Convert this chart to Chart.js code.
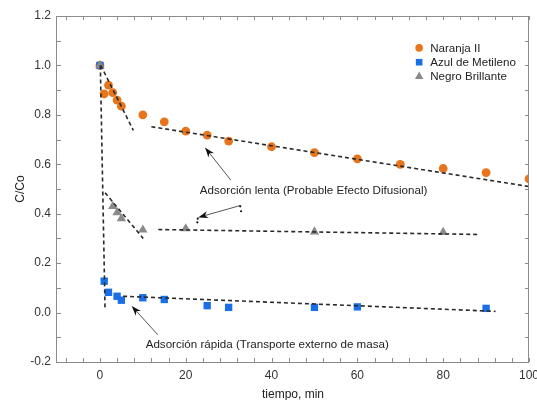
<!DOCTYPE html>
<html>
<head>
<meta charset="utf-8">
<script src="https://cdn.jsdelivr.net/npm/chart.js@4"></script>
<style>
  html, body { margin: 0; padding: 0; background: #fff; }
  #wrap { width: 537px; height: 400px; }
</style>
</head>
<body>
<div id="wrap"><canvas id="chart" width="537" height="400"></canvas></div>
<script>
// Naranja II
const naranjaX = [0, 1, 2, 3, 4, 5, 10, 15, 20, 25, 30, 40, 50, 60, 70, 80, 90, 100];
const naranjaY = [1.0, 0.885, 0.92, 0.89, 0.86, 0.835, 0.80, 0.772, 0.734, 0.718, 0.694, 0.671, 0.647, 0.622, 0.60, 0.583, 0.566, 0.541];
// Azul de Metileno
const azulX = [0, 1, 2, 4, 5, 10, 15, 25, 30, 50, 60, 90];
const azulY = [1.0, 0.127, 0.082, 0.066, 0.05, 0.06, 0.053, 0.028, 0.021, 0.021, 0.023, 0.017];
// Negro Brillante
const negroX = [0, 3, 4, 5, 10, 20, 50, 80];
const negroY = [1.0, 0.43, 0.405, 0.38, 0.335, 0.34, 0.327, 0.325];

// dashed fit segments: start and end
const fitNaranjaRapidaX = [0.2, 7.8];
const fitNaranjaRapidaY = [1.0, 0.737];
const fitNaranjaLentaX = [12, 100];
const fitNaranjaLentaY = [0.752, 0.51];
const fitAzulRapidaX = [0.1, 1.2];
const fitAzulRapidaY = [1.0, 0.01];
const fitAzulLentaX = [5.4, 92.2];
const fitAzulLentaY = [0.066, 0.005];
const fitNegroRapidaX = [1.2, 10.1];
const fitNegroRapidaY = [0.485, 0.30];
const fitNegroLentaX = [13.6, 88.3];
const fitNegroLentaY = [0.336, 0.316];

const seriesNames = ['Naranja II', 'Azul de Metileno', 'Negro Brillante'];
const xTicks = [0, 20, 40, 60, 80, 100];
const yTicks = [-0.2, 0, 0.2, 0.4, 0.6, 0.8, 1.0, 1.2];

const notaLenta = 'Adsorción lenta (Probable Efecto Difusional)';
const notaRapida = 'Adsorción rápida (Transporte externo de masa)';

const naranja = '#e8741c';
const azul = '#1a6fe6';
const gris = '#8a8a8a';

Chart.defaults.font.family = "'Liberation Sans', Arial, sans-serif";
Chart.defaults.font.size = 12;
Chart.defaults.color = '#333';

function pts(xs, ys) {
    return xs.map((x, i) => ({ x: x, y: ys[i] }));
}

function fit(xs, ys) {
    return {
        data: pts(xs, ys),
        showLine: true,
        borderColor: '#2a2a2a',
        borderWidth: 1.6,
        borderDash: [4, 3],
        pointRadius: 0,
        order: 0
    };
}

function arrow(ctx, x1, y1, x2, y2) {
    const a = Math.atan2(y2 - y1, x2 - x1);
    ctx.strokeStyle = '#555';
    ctx.lineWidth = 1;
    ctx.beginPath();
    ctx.moveTo(x1, y1);
    ctx.lineTo(x2 - 6 * Math.cos(a), y2 - 6 * Math.sin(a));
    ctx.stroke();
    ctx.fillStyle = '#111';
    ctx.beginPath();
    ctx.moveTo(x2, y2);
    ctx.lineTo(x2 - 10 * Math.cos(a) + 3.5 * Math.sin(a), y2 - 10 * Math.sin(a) - 3.5 * Math.cos(a));
    ctx.lineTo(x2 - 7 * Math.cos(a), y2 - 7 * Math.sin(a));
    ctx.lineTo(x2 - 10 * Math.cos(a) - 3.5 * Math.sin(a), y2 - 10 * Math.sin(a) + 3.5 * Math.cos(a));
    ctx.closePath();
    ctx.fill();
}

const extras = {
    id: 'extras',
    afterDraw(chart) {
        const ctx = chart.ctx;
        const xs = chart.scales.x, ys = chart.scales.y;
        const a = chart.chartArea;
        const px = v => xs.getPixelForValue(v);
        const py = v => ys.getPixelForValue(v);
        ctx.save();

        // frame
        ctx.strokeStyle = '#8c8c8c';
        ctx.lineWidth = 1;
        ctx.strokeRect(a.left - 0.5, a.top + 0.5, a.right - a.left, a.bottom - a.top);

        // inward ticks
        ctx.beginPath();
        for (let v = -8; v <= 100; v += 4) {
            const x = Math.round(px(v)) + 0.5;
            ctx.moveTo(x, a.bottom); ctx.lineTo(x, a.bottom - 4);
            ctx.moveTo(x, a.top); ctx.lineTo(x, a.top + 4);
        }
        for (let i = -2; i <= 12; i++) {
            const y = Math.round(py(i / 10)) + 0.5;
            ctx.moveTo(a.left, y); ctx.lineTo(a.left + 4, y);
            ctx.moveTo(a.right, y); ctx.lineTo(a.right - 4, y);
        }
        ctx.stroke();

        // legend
        const lx = px(74.4);
        const rows = [py(1.071), py(1.013), py(0.957)];
        ctx.fillStyle = naranja;
        ctx.beginPath(); ctx.arc(lx, rows[0], 3.8, 0, Math.PI * 2); ctx.fill();
        ctx.fillStyle = azul;
        ctx.fillRect(lx - 3.3, rows[1] - 3.3, 6.6, 6.6);
        ctx.fillStyle = gris;
        ctx.beginPath();
        ctx.moveTo(lx, rows[2] - 4.5); ctx.lineTo(lx + 4.2, rows[2] + 3); ctx.lineTo(lx - 4.2, rows[2] + 3);
        ctx.closePath(); ctx.fill();
        ctx.fillStyle = '#222';
        ctx.font = "11.6px 'Liberation Sans', Arial, sans-serif";
        ctx.textBaseline = 'middle';
        ctx.textAlign = 'left';
        seriesNames.forEach((n, i) => ctx.fillText(n, lx + 11, rows[i] + 0.5));

        // annotations
        ctx.textAlign = 'center';
        ctx.fillText(notaLenta, px(49.8), py(0.492));
        ctx.fillText(notaRapida, px(39.0), py(-0.132));
        arrow(ctx, px(30.5), py(0.536), px(24.5), py(0.668));
        arrow(ctx, px(32.7), py(0.433), px(22.9), py(0.385));
        arrow(ctx, px(13.5), py(-0.09), px(7.4), py(0.027));
        ctx.fillStyle = '#111';
        [[32.7, 0.43], [32.9, 0.41], [22.8, 0.38], [22.7, 0.365]].forEach(d => {
            ctx.beginPath(); ctx.arc(px(d[0]), py(d[1]), 1.1, 0, Math.PI * 2); ctx.fill();
        });
        ctx.restore();
    }
};

new Chart(document.getElementById('chart'), {
    type: 'scatter',
    data: {
        datasets: [
            { label: seriesNames[0], data: pts(naranjaX, naranjaY), pointStyle: 'circle', pointRadius: 4.4,
              backgroundColor: naranja, borderColor: naranja, borderWidth: 0, order: 3 },
            { label: seriesNames[1], data: pts(azulX, azulY), pointStyle: 'rect', pointRadius: 5.2,
              backgroundColor: azul, borderColor: azul, borderWidth: 0, order: 2 },
            { label: seriesNames[2], data: pts(negroX, negroY), pointStyle: 'triangle', pointRadius: 5.4,
              backgroundColor: gris, borderColor: gris, borderWidth: 0, order: 1 },
            fit(fitNaranjaRapidaX, fitNaranjaRapidaY),
            fit(fitNaranjaLentaX, fitNaranjaLentaY),
            fit(fitAzulRapidaX, fitAzulRapidaY),
            fit(fitAzulLentaX, fitAzulLentaY),
            fit(fitNegroRapidaX, fitNegroRapidaY),
            fit(fitNegroLentaX, fitNegroLentaY)
        ]
    },
    options: {
        responsive: false,
        animation: false,
        layout: { padding: { top: 16, right: 8, left: 0, bottom: 0 } },
        plugins: {
            legend: { display: false },
            tooltip: { enabled: false }
        },
        scales: {
            x: {
                type: 'linear',
                min: -10,
                max: 100,
                afterBuildTicks: s => { s.ticks = xTicks.map(v => ({ value: v })); },
                afterFit: s => { s.height = 38; s.paddingLeft = 0; s.paddingRight = 0; },
                grid: { display: false, drawTicks: false },
                border: { display: false },
                ticks: { padding: 6, color: '#333', maxRotation: 0 },
                title: { display: true, text: 'tiempo, min', color: '#222', padding: { top: 0, bottom: -2 } }
            },
            y: {
                type: 'linear',
                min: -0.2,
                max: 1.2,
                afterBuildTicks: s => { s.ticks = yTicks.map(v => ({ value: v })); },
                afterFit: s => { s.width = 57; s.paddingTop = 0; s.paddingBottom = 0; },
                grid: { display: false, drawTicks: false },
                border: { display: false },
                ticks: { padding: 6, color: '#333', callback: v => v.toFixed(1) },
                title: { display: true, text: 'C/Co', color: '#222', padding: { top: 13, bottom: 0 } }
            }
        }
    },
    plugins: [extras]
});
</script>
</body>
</html>
